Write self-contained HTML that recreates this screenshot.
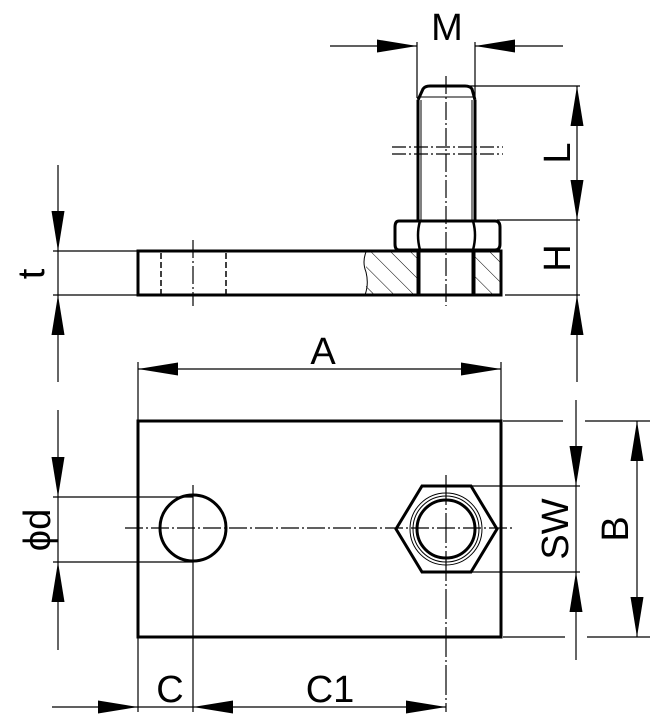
<!DOCTYPE html>
<html><head><style>html,body{margin:0;padding:0;background:#fff}svg{display:block}</style></head><body>
<svg width="672" height="723" viewBox="0 0 672 723" xmlns="http://www.w3.org/2000/svg">
<defs>
<pattern id="h" width="14" height="14" patternUnits="userSpaceOnUse" patternTransform="rotate(-45)"><line x1="0" y1="0" x2="0" y2="14" stroke="#000" stroke-width="1"/></pattern>
</defs>
<g fill="none" stroke="#000" stroke-linecap="butt">
<rect x="366" y="252" width="51" height="43" fill="url(#h)" stroke="none"/>
<rect x="475" y="252" width="26" height="43" fill="url(#h)" stroke="none"/>
<path d="M366 252 q-4 10 0 20 q3 12 -1 23" stroke-width="1"/>
<path d="M138 251 H501 V295 H138 Z" stroke-width="3"/>
<line x1="161" y1="253" x2="161" y2="294" stroke-width="1.5" stroke-dasharray="6,3"/>
<line x1="226" y1="253" x2="226" y2="294" stroke-width="1.5" stroke-dasharray="6,3"/>
<line x1="193" y1="240" x2="193" y2="306" stroke-width="1.2" stroke-dasharray="18,3,2,3"/>
<line x1="419" y1="251" x2="419" y2="295" stroke-width="3"/>
<line x1="473" y1="251" x2="473" y2="295" stroke-width="3"/>
<line x1="417" y1="251" x2="417" y2="295" stroke-width="1"/>
<line x1="475" y1="251" x2="475" y2="295" stroke-width="1"/>
<path d="M399 221 H495 Q500 221 500 227 V244 Q500 250 495 250 H399 Q395 250 395 244 V227 Q395 221 399 221 Z" stroke-width="3"/>
<path d="M420 221 Q416 235 420 250 M473 221 Q477 235 473 250" stroke-width="2.5"/>
<path d="M418 220 V100 M475 220 V100" stroke-width="3"/>
<path d="M421 220 V100 M472 220 V100" stroke-width="1"/>
<path d="M418 100 L423 89 Q425 86 430 86 H465 Q470 86 472 89 L475 100" stroke-width="3"/>
<line x1="420" y1="97" x2="473" y2="97" stroke-width="1"/>
<line x1="392" y1="147" x2="503" y2="147" stroke-width="1.2" stroke-dasharray="14,3,2,3"/>
<line x1="392" y1="154" x2="503" y2="154" stroke-width="1.2" stroke-dasharray="14,3,2,3"/>
<line x1="446" y1="76" x2="446" y2="306" stroke-width="1.2" stroke-dasharray="18,3,2,3"/>
<path d="M417 42 V98 M475 42 V98 M330 46 H417 M475 46 H563" stroke-width="1.2"/>
<path d="M470 86 H580 M497 220 H580 M505 295 H580 M577 86 V382" stroke-width="1.2"/>
<path d="M53 251 H137 M53 295 H137 M58 165 V382" stroke-width="1.2"/>

<rect x="138" y="421" width="363" height="216" stroke-width="3"/>
<path d="M138 362 V421 M501 362 V421 M138 369 H501" stroke-width="1.2"/>
<line x1="125" y1="528" x2="512" y2="528" stroke-width="1.2" stroke-dasharray="18,3,2,3"/>
<line x1="193" y1="485" x2="193" y2="712" stroke-width="1.2"/>
<circle cx="193" cy="528" r="33" stroke-width="3"/>
<path d="M53 497 H193 M53 562 H193 M58 410 V650" stroke-width="1.2"/>
<path d="M422 486 H471 L497 529 L471 572 H422 L396 529 Z" stroke-width="3"/>
<circle cx="446" cy="529" r="36" stroke-width="1"/>
<circle cx="446" cy="529" r="33" stroke-width="1"/>
<circle cx="446" cy="529" r="29" stroke-width="3"/>
<line x1="446" y1="475" x2="446" y2="712" stroke-width="1.2" stroke-dasharray="30,3,2,3"/>
<path d="M471 486 H580 M471 572 H580 M576 400 V660" stroke-width="1.2"/>
<path d="M503 421 H563 M585 421 H650 M503 637 H565 M587 637 H650 M637 421 V637" stroke-width="1.2"/>
<path d="M138 637 V712 M52 707 H446" stroke-width="1.2"/>
</g>
<g fill="#000">
<path d="M417 46 l-40 -6.5 v13 Z"/><path d="M475 46 l40 -6.5 v13 Z"/>
<path d="M577 86 l-6.5 40 h13 Z"/><path d="M577 220 l-6.5 -40 h13 Z"/>
<path d="M577 295 l-6.5 40 h13 Z"/>
<path d="M58 251 l-6.5 -40 h13 Z"/><path d="M58 295 l-6.5 40 h13 Z"/>
<path d="M138 369 l40 -6.5 v13 Z"/><path d="M501 369 l-40 -6.5 v13 Z"/>
<path d="M58 497 l-6.5 -40 h13 Z"/><path d="M58 562 l-6.5 40 h13 Z"/>
<path d="M576 486 l-6.5 -40 h13 Z"/><path d="M576 572 l-6.5 40 h13 Z"/>
<path d="M637 421 l-6.5 40 h13 Z"/><path d="M637 637 l-6.5 -40 h13 Z"/>
<path d="M138 707 l-40 -6.5 v13 Z"/><path d="M193 707 l40 -6.5 v13 Z"/><path d="M446 707 l-40 -6.5 v13 Z"/>
</g>
<g font-family="Liberation Sans, sans-serif" font-size="38" fill="#000" text-anchor="middle">
<text x="447" y="40">M</text>
<text x="323" y="364">A</text>
<text x="170" y="702">C</text>
<text x="330" y="702">C1</text>
<text transform="translate(570,153) rotate(-90)">L</text>
<text transform="translate(570,258) rotate(-90)">H</text>
<text transform="translate(44,274) rotate(-90)">t</text>
<text transform="translate(50,530) rotate(-90)">ϕd</text>
<text transform="translate(568,529) rotate(-90)">SW</text>
<text transform="translate(628,529) rotate(-90)">B</text>
</g>
</svg>
</body></html>
